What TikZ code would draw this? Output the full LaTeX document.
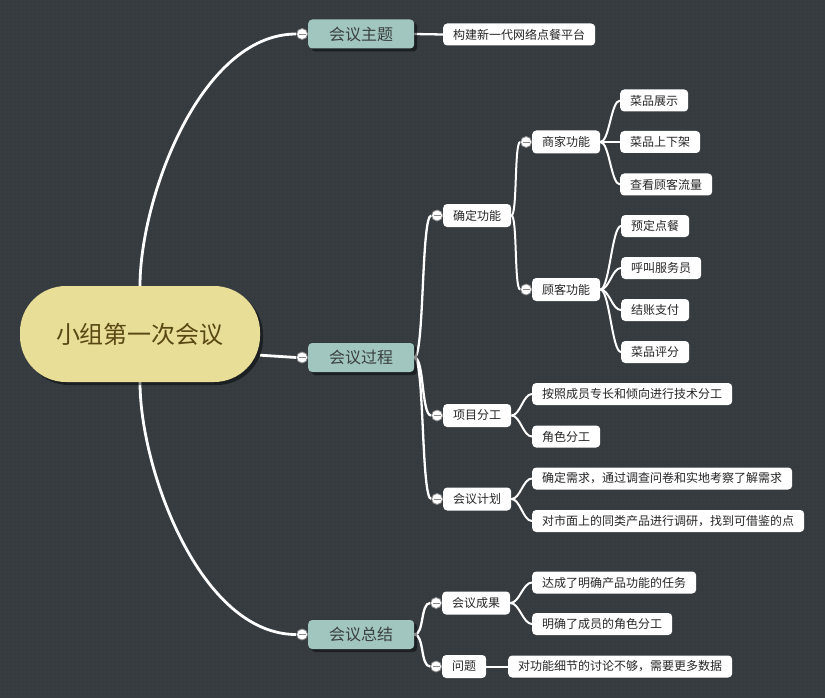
\documentclass[tikz,border=0pt]{standalone}
\usepackage{fontspec}
\setmainfont{Noto Sans CJK SC}
\usetikzlibrary{positioning, shadows, backgrounds, patterns.meta}

\definecolor{bgcol}{HTML}{363C40}
\definecolor{dotcol}{HTML}{2D3236}
\definecolor{rootfill}{HTML}{E8DE98}
\definecolor{roottext}{HTML}{5A4814}
\definecolor{topicfill}{HTML}{A1C6BF}
\definecolor{topictext}{HTML}{3A3F3F}
\definecolor{foldgray}{HTML}{8A8A8A}

\tikzset{
    rootbox/.style={
        rectangle,
        rounded corners=46pt,
        fill=rootfill,
        text=roottext,
        minimum width=240pt,
        minimum height=96pt,
        font=\fontsize{24}{28}\selectfont,
        drop shadow={shadow xshift=3pt, shadow yshift=-3pt, opacity=0.45, fill=black}
    },
    topic/.style={
        rectangle,
        rounded corners=4pt,
        fill=topicfill,
        text=topictext,
        minimum height=29pt,
        inner xsep=21pt,
        inner ysep=0pt,
        anchor=west,
        font=\fontsize{16}{19}\selectfont,
        drop shadow={shadow xshift=3pt, shadow yshift=-3pt, opacity=0.45, fill=black}
    },
    subtopic/.style={
        rectangle,
        rounded corners=4pt,
        fill=white,
        text=black!85,
        minimum height=23pt,
        inner xsep=10pt,
        inner ysep=0pt,
        anchor=west,
        font=\fontsize{12}{14}\selectfont
    },
    leaf/.style={subtopic, minimum height=22pt},
    fold/.style={
        circle,
        draw=foldgray,
        fill=white,
        line width=0.8pt,
        minimum size=11pt,
        inner sep=0pt,
        path picture={
            \draw[foldgray, line width=0.8pt]
                ([xshift=-3.5pt]path picture bounding box.center) --
                ([xshift=3.5pt]path picture bounding box.center);
        }
    },
    trunk/.style={draw=white, line width=2.8pt},
    branch/.style={draw=white, line width=2.3pt, out=0, in=180, out distance=10pt, in distance=10pt},
    twig/.style={draw=white, line width=2pt, out=0, in=180, out distance=9pt, in distance=9pt}
}

\begin{document}
\begin{tikzpicture}[x=1pt, y=1pt]
    \useasboundingbox (0,0) rectangle (825,-698);

    % central topic
    \node[rootbox] (root) at (140,-334) {小组第一次会议};

    % main topics
    \node[topic] (theme) at (308,-34) {会议主题};
    \node[topic] (process) at (308,-357.5) {会议过程};
    \node[topic] (summary) at (308,-634.5) {会议总结};

    \node[leaf] (goal) at (443,-34.5) {构建新一代网络点餐平台};

    % meeting process
    \node[subtopic] (func) at (443,-215.5) {确定功能};
    \node[subtopic] (merchant) at (532,-142) {商家功能};
    \node[subtopic] (customer) at (532,-289.5) {顾客功能};

    \node[leaf] (m1) at (620,-100.5) {菜品展示};
    \node[leaf] (m2) at (620,-142) {菜品上下架};
    \node[leaf] (m3) at (620,-184.5) {查看顾客流量};

    \node[leaf] (c1) at (621,-226) {预定点餐};
    \node[leaf] (c2) at (621,-268) {呼叫服务员};
    \node[leaf] (c3) at (621,-310) {结账支付};
    \node[leaf] (c4) at (621,-352) {菜品评分};

    \node[subtopic] (division) at (443,-415.5) {项目分工};
    \node[leaf] (d1) at (532,-394) {按照成员专长和倾向进行技术分工};
    \node[leaf] (d2) at (532,-436.5) {角色分工};

    \node[subtopic] (plan) at (443,-499) {会议计划};
    \node[leaf] (p1) at (532,-478.5) {确定需求，通过调查问卷和实地考察了解需求};
    \node[leaf] (p2) at (532,-521) {对市面上的同类产品进行调研，找到可借鉴的点};

    % meeting summary
    \node[subtopic] (result) at (442,-603) {会议成果};
    \node[leaf] (r1) at (532,-582.5) {达成了明确产品功能的任务};
    \node[leaf] (r2) at (532,-624) {明确了成员的角色分工};

    \node[subtopic] (issue) at (442,-666.5) {问题};
    \node[leaf] (i1) at (508,-666.5) {对功能细节的讨论不够，需要更多数据};

    % collapse markers
    \foreach \n in {theme, process, summary, func, merchant, customer, division, plan, result, issue}
        \node[fold, left=0pt of \n] (f\n) {};

    \begin{scope}[on background layer]
        \fill[bgcol] (0,0) rectangle (825,-698);
        \fill[pattern={Dots[distance=4pt, radius=0.5pt]}, pattern color=dotcol] (0,0) rectangle (825,-698);

        \draw[trunk] (root.north) to[out=90, in=180, out distance=87pt, in distance=96pt] (ftheme.west);
        \draw[trunk] (root.-10) -- (fprocess.west);
        \draw[trunk] (root.south) to[out=-90, in=180, out distance=87pt, in distance=96pt] (fsummary.west);

        \draw[branch] (theme.east) -- (goal.west);
        \foreach \c in {func, division, plan}
            \draw[branch] (process.east) to (f\c.west);
        \foreach \c in {result, issue}
            \draw[branch] (summary.east) to (f\c.west);

        \foreach \c in {merchant, customer}
            \draw[twig, out distance=6pt, in distance=6pt] (func.east) to (f\c.west);
        \foreach \c in {m1, m2, m3}
            \draw[twig] (merchant.east) to (\c.west);
        \foreach \c in {c1, c2, c3, c4}
            \draw[twig] (customer.east) to (\c.west);
        \foreach \c in {d1, d2}
            \draw[twig] (division.east) to (\c.west);
        \foreach \c in {p1, p2}
            \draw[twig] (plan.east) to (\c.west);
        \foreach \c in {r1, r2}
            \draw[twig] (result.east) to (\c.west);
        \draw[twig] (issue.east) -- (i1.west);
    \end{scope}
\end{tikzpicture}
\end{document}
